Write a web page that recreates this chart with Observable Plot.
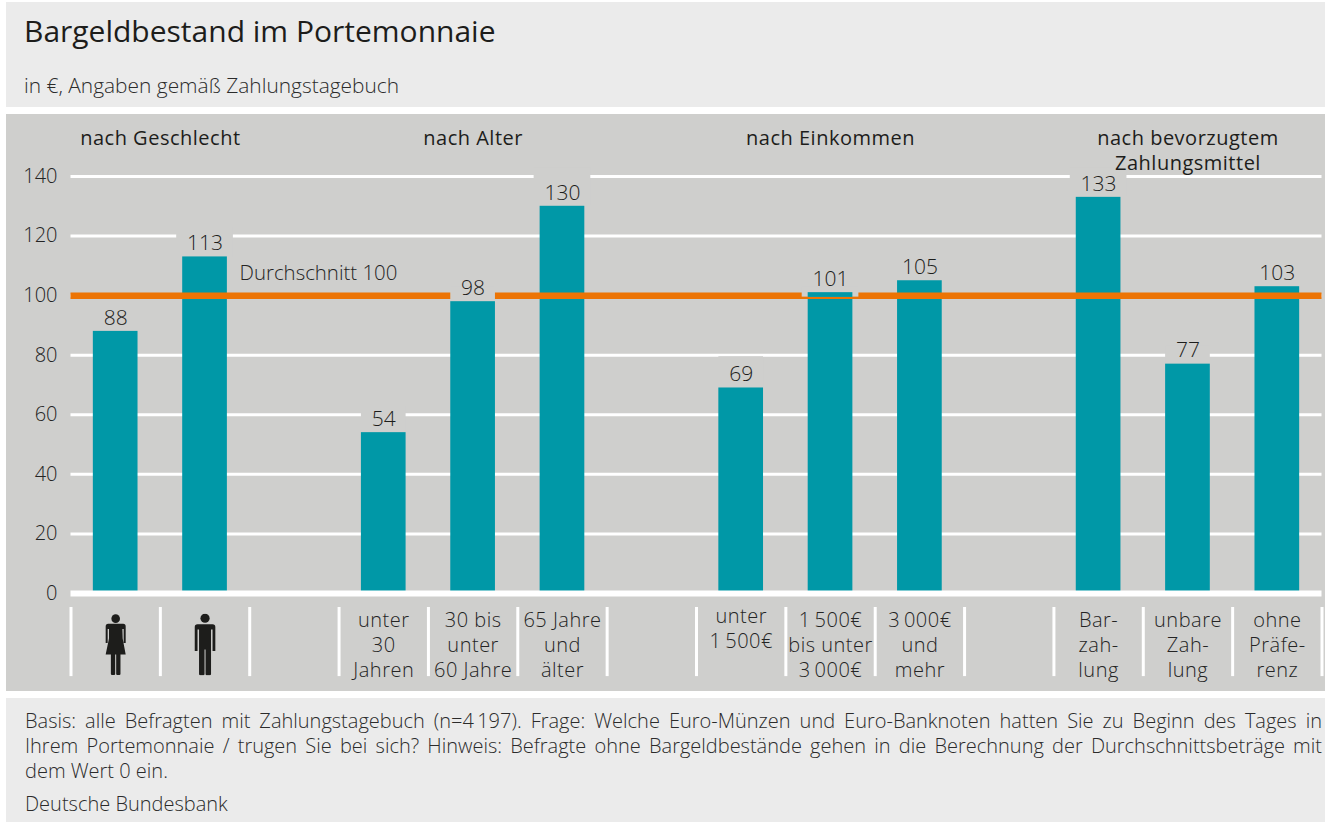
<!DOCTYPE html>
<html lang="de">
<head>
<meta charset="utf-8">
<script src="https://cdn.jsdelivr.net/npm/d3@7"></script>
<script src="https://cdn.jsdelivr.net/npm/@observablehq/plot@0.6"></script>
<style>
  html, body { margin: 0; padding: 0; background: #fff; overflow: hidden; }
  body { width: 1325px; height: 822px; font-family: "Open Sans", sans-serif; color: #222; }
  .head { position: absolute; left: 6px; top: 2px; width: 1319px; height: 105px; background: #ebebeb; }
  .title { position: absolute; left: 18px; top: 9px; font-size: 30px; line-height: 40px; font-weight: 500; color: #1d1d1b; white-space: nowrap; }
  .sub { position: absolute; left: 18px; top: 69px; font-size: 20.9px; line-height: 28px; font-weight: 300; color: #2b2b2b; white-space: nowrap; }
  #chart { position: absolute; left: 6px; top: 114px; }
  #chart svg { display: block; }
  .wide text { letter-spacing: 0.5px; }
  .foot { position: absolute; left: 6px; top: 698px; width: 1319px; height: 124px; background: #ebebeb; font-size: 20px; font-weight: 300; color: #2b2b2b; }
  .note { position: absolute; left: 19px; top: 10px; width: 1297px; line-height: 25px; }
  .note div { text-align: justify; text-align-last: justify; white-space: nowrap; }
  .note div:last-child { text-align-last: left; }
  .src { position: absolute; left: 19px; top: 93px; line-height: 25px; }
</style>
</head>
<body>
<div class="head">
  <div class="title">Bargeldbestand im Portemonnaie</div>
  <div class="sub">in €, Angaben gemäß Zahlungstagebuch</div>
</div>
<div id="chart"></div>
<div class="foot">
  <div class="note">
    <div>Basis: alle Befragten mit Zahlungstagebuch (n=4&#8201;197). Frage: Welche Euro-Münzen und Euro-Banknoten hatten Sie zu Beginn des Tages in</div>
    <div>Ihrem Portemonnaie / trugen Sie bei sich? Hinweis: Befragte ohne Bargeldbestände gehen in die Berechnung der Durchschnittsbeträge mit</div>
    <div>dem Wert 0 ein.</div>
  </div>
  <div class="src">Deutsche Bundesbank</div>
</div>
<script>
const TEAL = "#0098a7", ORANGE = "#ec7405", GREY = "#cfcfcd", INK = "#242424";
const FONT = "Open Sans";

const slots = ["Frauen", "Männer", " ", "unter\n30\nJahren", "30 bis\nunter\n60 Jahre", "65 Jahre\nund\nälter", "  ",
  "unter\n1\u2009500€", "1\u2009500€\nbis unter\n3\u2009000€", "3\u2009000€\nund\nmehr", "   ",
  "Bar-\nzah-\nlung", "unbare\nZah-\nlung", "ohne\nPräfe-\nrenz"];
const categories = slots.filter(s => s.trim() !== "");
const values = [88, 113, 54, 98, 130, 69, 101, 105, 133, 77, 103];
const average = 100;
const yTicks = [0, 20, 40, 60, 80, 100, 120, 140];

const bars = categories.map((c, i) => ({c, v: values[i]}));
const textLabels = categories.slice(2);
const textLabelCentre = [-16.9, -16.9, -16.9, -11.5, -16.9, -16.9, -16.9, -16.9, -16.9];

const sectionTitles = ["nach Geschlecht", "nach Alter", "nach Einkommen", "nach bevorzugtem\nZahlungsmittel"];
const sectionSlots = [slots[0], slots[4], slots[8], slots[12]];
const sectionY = [153.3, 153.3, 153.3, 149];

// grey label backings that interrupt a grid line: [slot, from, to, extra half-width]
const gridGaps = [
  [slots[1], 113, 123, 6], [slots[5], 130, 143, 6], [slots[11], 133, 143, 6],
  [slots[3], 54, 63, 0], [slots[7], 69, 79.5, 0], [slots[12], 77, 83, 0]
];
// backings that interrupt the average line
const lineGaps = [[slots[4], 98, 103, 0], [slots[8], 99.5, 103, 6]];

const svgIcon = body => "data:image/svg+xml;utf8," + encodeURIComponent(
  `<svg xmlns="http://www.w3.org/2000/svg" viewBox="0 0 22 62"><g fill="#1d1d1b">${body}</g></svg>`);
const womanIcon = svgIcon(`<circle cx="11" cy="5.2" r="4.3"/><path d="M3.5 10.3H18.5Q21 10.3 21 13V29.5H19V15.5H17.7L18 25L21 41H15.8V60.5Q15.8 61.5 14.6 61.5H12.6Q11.5 61.5 11.5 60.5V41H10.5V60.5Q10.5 61.5 9.4 61.5H7.4Q6.2 61.5 6.2 60.5V41H1L4.3 25L4.3 15.5H3V29.5H1V13Q1 10.3 3.5 10.3Z"/>`);
const manIcon = svgIcon(`<circle cx="11" cy="4.8" r="4.6"/><path d="M3.5 10.8H18.5Q21.3 10.8 21.3 13.5V37.5H18.5V16H17V60.5Q17 61.7 15.6 61.7H12.7Q11.5 61.7 11.5 60.5V36H10.5V60.5Q10.5 61.7 9.3 61.7H6.4Q5 61.7 5 60.5V16H3.5V37.5H0.7V13.5Q0.7 10.8 3.5 10.8Z"/>`);
const icons = [{c: slots[0], src: womanIcon}, {c: slots[1], src: manIcon}];

const W = 1319, H = 577, L = 64.5, R = 1315.5;
const step = (R - L) / slots.length;

const backing = rows => rows.map(([c, a, b, extra]) => Plot.barY([{c, a, b}], {
  x: "c", y1: "a", y2: "b", fill: GREY, insetLeft: -extra, insetRight: -extra
}));

const plot = Plot.plot({
  width: W, height: H,
  marginLeft: L, marginRight: W - R, marginTop: 0, marginBottom: 0,
  style: {background: GREY, fontFamily: FONT, fontSize: "20px", color: INK, overflow: "visible"},
  x: {type: "band", domain: slots, range: [L, R], paddingInner: 0.5, paddingOuter: 0.25, align: 0.5, round: false, axis: null},
  y: {type: "linear", domain: [0, 140], range: [479, 62], axis: null},
  marks: [
    Plot.ruleY(yTicks.filter(t => t > 0), {y: d => d, stroke: "#fff", strokeWidth: 3}),
    ...backing(gridGaps),
    Plot.barY(bars, {x: "c", y: "v", fill: TEAL}),
    Plot.ruleY([0], {stroke: "#fff", strokeWidth: 6}),
    Plot.ruleY([average], {stroke: ORANGE, strokeWidth: 6.5}),
    ...backing(lineGaps),
    Plot.barY([{c: slots[8], a: 99.4, b: 101}], {x: "c", y1: "a", y2: "b", fill: TEAL}),
    Plot.axisY({ticks: yTicks, tickSize: 0, tickPadding: 13.5, label: null, fontSize: 20, fontWeight: 300, fill: INK}),
    Plot.text(bars, {x: "c", y: "v", text: d => String(d.v), dy: -13.5, fontSize: 21, fontWeight: 300, fill: "#1d1d1b"}),
    Plot.text(["Durchschnitt 100"], {x: () => slots[1], y: () => average, text: d => d, textAnchor: "start", dx: 34.5, dy: -22, fontSize: 20.4, fontWeight: 300, fill: INK}),
    Plot.text(sectionTitles.slice(0, 1), {x: () => sectionSlots[0], y: () => sectionY[0], text: d => d, dx: step / 2, lineHeight: 1.25, fontSize: 20, fontWeight: 400, fill: "#1d1d1b", className: "wide"}),
    Plot.text(sectionTitles.slice(1), {x: (d, i) => sectionSlots[i + 1], y: (d, i) => sectionY[i + 1], text: d => d, lineHeight: 1.25, fontSize: 20, fontWeight: 400, fill: "#1d1d1b", className: "wide"}),
    Plot.ruleX(slots, {x: d => d, y1: -4.7, y2: -27.9, stroke: "#fff", strokeWidth: 3, dx: -step / 2}),
    Plot.ruleX(slots.slice(-1), {x: d => d, y1: -4.7, y2: -27.9, stroke: "#fff", strokeWidth: 3, dx: step / 2}),
    Plot.text(textLabels, {x: d => d, y: (d, i) => textLabelCentre[i], text: d => d, lineHeight: 1.25, fontSize: 20, fontWeight: 300, fill: INK, className: "wide"}),
    Plot.image(icons, {x: "c", y: () => -17.1, src: "src", width: 22, height: 62})
  ]
});
document.getElementById("chart").append(plot);
</script>
</body>
</html>
